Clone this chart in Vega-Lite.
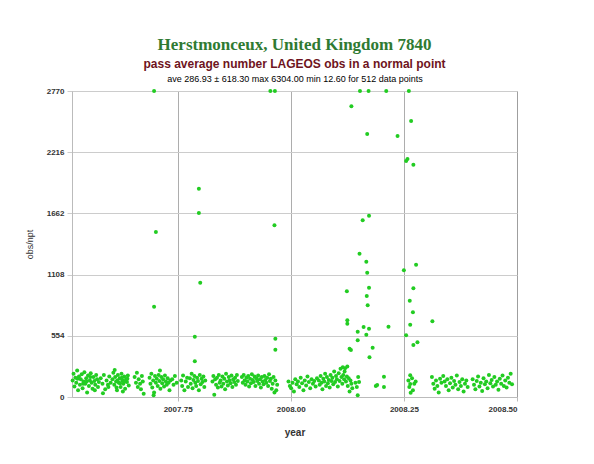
{
  "$schema": "https://vega.github.io/schema/vega-lite/v6.json",
  "width": 445,
  "height": 306,
  "autosize": {"type": "none"},
  "padding": {"left": 72, "top": 91, "right": 77, "bottom": 67},
  "background": "white",
  "title": {
    "text": "Herstmonceux, United Kingdom 7840",
    "subtitle": "pass average number LAGEOS obs in a normal point",
    "anchor": "middle",
    "font": "Liberation Serif",
    "fontSize": 17,
    "fontWeight": "bold",
    "color": "#2f7a32",
    "subtitleFont": "Liberation Sans",
    "subtitleFontSize": 12,
    "subtitleFontWeight": "bold",
    "subtitleColor": "#6e1421",
    "subtitlePadding": 5,
    "offset": 3
  },
  "config": {
    "view": {"stroke": "#bbbbbb"},
    "axis": {"labelFont": "Liberation Sans", "titleFont": "Liberation Sans"}
  },
  "data": {
    "values": [
      {"year": 2007.698, "obs": 2770}, {"year": 2007.702, "obs": 1493}, {"year": 2007.797, "obs": 1886}, {"year": 2007.797, "obs": 1665},
      {"year": 2007.955, "obs": 2770}, {"year": 2007.965, "obs": 2770}, {"year": 2007.964, "obs": 1554}, {"year": 2007.800, "obs": 1035},
      {"year": 2007.698, "obs": 817}, {"year": 2007.788, "obs": 546}, {"year": 2007.788, "obs": 323}, {"year": 2007.966, "obs": 528},
      {"year": 2007.966, "obs": 428}, {"year": 2008.153, "obs": 2770}, {"year": 2008.172, "obs": 2770}, {"year": 2008.211, "obs": 2770},
      {"year": 2008.261, "obs": 2770}, {"year": 2008.134, "obs": 2631}, {"year": 2008.266, "obs": 2498}, {"year": 2008.169, "obs": 2381},
      {"year": 2008.236, "obs": 2363}, {"year": 2008.255, "obs": 2136}, {"year": 2008.258, "obs": 2154}, {"year": 2008.271, "obs": 2103},
      {"year": 2008.173, "obs": 1641}, {"year": 2008.159, "obs": 1599}, {"year": 2008.152, "obs": 1297}, {"year": 2008.167, "obs": 1225},
      {"year": 2008.169, "obs": 1125}, {"year": 2008.250, "obs": 1147}, {"year": 2008.277, "obs": 1198}, {"year": 2008.124, "obs": 957},
      {"year": 2008.173, "obs": 990}, {"year": 2008.168, "obs": 914}, {"year": 2008.271, "obs": 984}, {"year": 2008.263, "obs": 872},
      {"year": 2008.170, "obs": 830}, {"year": 2008.270, "obs": 767}, {"year": 2008.125, "obs": 694}, {"year": 2008.125, "obs": 664},
      {"year": 2008.313, "obs": 685}, {"year": 2008.264, "obs": 654}, {"year": 2008.161, "obs": 634}, {"year": 2008.173, "obs": 618},
      {"year": 2008.148, "obs": 591}, {"year": 2008.216, "obs": 637}, {"year": 2008.167, "obs": 564}, {"year": 2008.255, "obs": 558},
      {"year": 2008.148, "obs": 513}, {"year": 2008.280, "obs": 495}, {"year": 2008.271, "obs": 471}, {"year": 2008.130, "obs": 437},
      {"year": 2008.133, "obs": 425}, {"year": 2008.181, "obs": 446}, {"year": 2008.174, "obs": 359}, {"year": 2008.149, "obs": 181},
      {"year": 2008.151, "obs": 136}, {"year": 2008.148, "obs": 15}, {"year": 2008.188, "obs": 100}, {"year": 2008.191, "obs": 109},
      {"year": 2008.206, "obs": 184}, {"year": 2008.206, "obs": 90}, {"year": 2008.264, "obs": 196}, {"year": 2008.264, "obs": 118},
      {"year": 2008.265, "obs": 39},
      {"year": 2007.518, "obs": 150}, {"year": 2007.520, "obs": 210}, {"year": 2007.522, "obs": 95}, {"year": 2007.524, "obs": 175},
      {"year": 2007.526, "obs": 130}, {"year": 2007.528, "obs": 240}, {"year": 2007.530, "obs": 60}, {"year": 2007.532, "obs": 185},
      {"year": 2007.534, "obs": 110}, {"year": 2007.536, "obs": 160}, {"year": 2007.538, "obs": 205}, {"year": 2007.540, "obs": 80},
      {"year": 2007.542, "obs": 140}, {"year": 2007.544, "obs": 225}, {"year": 2007.546, "obs": 120}, {"year": 2007.548, "obs": 170},
      {"year": 2007.550, "obs": 40}, {"year": 2007.552, "obs": 195}, {"year": 2007.554, "obs": 100}, {"year": 2007.556, "obs": 150},
      {"year": 2007.558, "obs": 215}, {"year": 2007.560, "obs": 130}, {"year": 2007.562, "obs": 75}, {"year": 2007.564, "obs": 180},
      {"year": 2007.566, "obs": 145}, {"year": 2007.568, "obs": 110}, {"year": 2007.570, "obs": 200}, {"year": 2007.572, "obs": 160},
      {"year": 2007.574, "obs": 90}, {"year": 2007.576, "obs": 135}, {"year": 2007.529, "obs": 165}, {"year": 2007.541, "obs": 120},
      {"year": 2007.549, "obs": 140}, {"year": 2007.557, "obs": 180}, {"year": 2007.567, "obs": 60},
      {"year": 2007.580, "obs": 170}, {"year": 2007.584, "obs": 120}, {"year": 2007.587, "obs": 200}, {"year": 2007.590, "obs": 70},
      {"year": 2007.593, "obs": 150}, {"year": 2007.596, "obs": 110}, {"year": 2007.599, "obs": 185}, {"year": 2007.602, "obs": 130},
      {"year": 2007.585, "obs": 35}, {"year": 2007.597, "obs": 90},
      {"year": 2007.606, "obs": 160}, {"year": 2007.608, "obs": 220}, {"year": 2007.610, "obs": 110}, {"year": 2007.612, "obs": 180},
      {"year": 2007.614, "obs": 140}, {"year": 2007.616, "obs": 60}, {"year": 2007.618, "obs": 200}, {"year": 2007.620, "obs": 130},
      {"year": 2007.622, "obs": 170}, {"year": 2007.624, "obs": 90}, {"year": 2007.626, "obs": 210}, {"year": 2007.628, "obs": 150},
      {"year": 2007.630, "obs": 120}, {"year": 2007.632, "obs": 185}, {"year": 2007.634, "obs": 75}, {"year": 2007.636, "obs": 160},
      {"year": 2007.638, "obs": 135}, {"year": 2007.640, "obs": 195}, {"year": 2007.642, "obs": 105}, {"year": 2007.611, "obs": 245},
      {"year": 2007.617, "obs": 150}, {"year": 2007.623, "obs": 125}, {"year": 2007.627, "obs": 175}, {"year": 2007.633, "obs": 140},
      {"year": 2007.639, "obs": 165}, {"year": 2007.615, "obs": 85}, {"year": 2007.629, "obs": 50},
      {"year": 2007.655, "obs": 180}, {"year": 2007.658, "obs": 130}, {"year": 2007.660, "obs": 220}, {"year": 2007.662, "obs": 90},
      {"year": 2007.664, "obs": 160}, {"year": 2007.667, "obs": 120}, {"year": 2007.669, "obs": 70}, {"year": 2007.671, "obs": 190},
      {"year": 2007.673, "obs": 140}, {"year": 2007.675, "obs": 30},
      {"year": 2007.688, "obs": 175}, {"year": 2007.690, "obs": 120}, {"year": 2007.692, "obs": 210}, {"year": 2007.694, "obs": 85},
      {"year": 2007.696, "obs": 150}, {"year": 2007.698, "obs": 40}, {"year": 2007.700, "obs": 190}, {"year": 2007.702, "obs": 130},
      {"year": 2007.704, "obs": 165}, {"year": 2007.706, "obs": 100}, {"year": 2007.708, "obs": 200}, {"year": 2007.710, "obs": 145},
      {"year": 2007.712, "obs": 75}, {"year": 2007.714, "obs": 180}, {"year": 2007.716, "obs": 125}, {"year": 2007.718, "obs": 160},
      {"year": 2007.720, "obs": 95}, {"year": 2007.722, "obs": 195}, {"year": 2007.724, "obs": 140}, {"year": 2007.726, "obs": 110},
      {"year": 2007.728, "obs": 170}, {"year": 2007.730, "obs": 130}, {"year": 2007.732, "obs": 60}, {"year": 2007.734, "obs": 150},
      {"year": 2007.697, "obs": 15}, {"year": 2007.711, "obs": 240},
      {"year": 2007.738, "obs": 160}, {"year": 2007.741, "obs": 110}, {"year": 2007.744, "obs": 190}, {"year": 2007.748, "obs": 130},
      {"year": 2007.758, "obs": 150}, {"year": 2007.760, "obs": 100}, {"year": 2007.762, "obs": 195}, {"year": 2007.765, "obs": 60},
      {"year": 2007.768, "obs": 140}, {"year": 2007.771, "obs": 175}, {"year": 2007.773, "obs": 90},
      {"year": 2007.777, "obs": 170}, {"year": 2007.779, "obs": 120}, {"year": 2007.781, "obs": 210}, {"year": 2007.783, "obs": 80},
      {"year": 2007.785, "obs": 155}, {"year": 2007.787, "obs": 190}, {"year": 2007.789, "obs": 130}, {"year": 2007.791, "obs": 100},
      {"year": 2007.793, "obs": 175}, {"year": 2007.795, "obs": 145}, {"year": 2007.797, "obs": 60}, {"year": 2007.799, "obs": 200},
      {"year": 2007.801, "obs": 115}, {"year": 2007.803, "obs": 165}, {"year": 2007.805, "obs": 135}, {"year": 2007.807, "obs": 185},
      {"year": 2007.809, "obs": 90}, {"year": 2007.811, "obs": 150},
      {"year": 2007.827, "obs": 140}, {"year": 2007.829, "obs": 190}, {"year": 2007.831, "obs": 20}, {"year": 2007.833, "obs": 160},
      {"year": 2007.835, "obs": 110}, {"year": 2007.837, "obs": 175}, {"year": 2007.839, "obs": 85}, {"year": 2007.841, "obs": 200},
      {"year": 2007.843, "obs": 130}, {"year": 2007.845, "obs": 150}, {"year": 2007.847, "obs": 95}, {"year": 2007.849, "obs": 185},
      {"year": 2007.851, "obs": 120}, {"year": 2007.853, "obs": 165}, {"year": 2007.855, "obs": 70}, {"year": 2007.857, "obs": 210},
      {"year": 2007.859, "obs": 140}, {"year": 2007.861, "obs": 105}, {"year": 2007.863, "obs": 180}, {"year": 2007.865, "obs": 150},
      {"year": 2007.867, "obs": 125}, {"year": 2007.869, "obs": 195}, {"year": 2007.871, "obs": 90}, {"year": 2007.873, "obs": 160},
      {"year": 2007.875, "obs": 135}, {"year": 2007.877, "obs": 175}, {"year": 2007.879, "obs": 110}, {"year": 2007.881, "obs": 200},
      {"year": 2007.883, "obs": 145},
      {"year": 2007.892, "obs": 180}, {"year": 2007.894, "obs": 130}, {"year": 2007.896, "obs": 200}, {"year": 2007.898, "obs": 150},
      {"year": 2007.900, "obs": 110}, {"year": 2007.902, "obs": 175}, {"year": 2007.904, "obs": 140}, {"year": 2007.906, "obs": 190},
      {"year": 2007.908, "obs": 95}, {"year": 2007.910, "obs": 165}, {"year": 2007.912, "obs": 125}, {"year": 2007.914, "obs": 205},
      {"year": 2007.916, "obs": 155}, {"year": 2007.918, "obs": 135}, {"year": 2007.920, "obs": 185}, {"year": 2007.922, "obs": 100},
      {"year": 2007.924, "obs": 170}, {"year": 2007.926, "obs": 145}, {"year": 2007.928, "obs": 195}, {"year": 2007.930, "obs": 120},
      {"year": 2007.932, "obs": 160}, {"year": 2007.934, "obs": 85}, {"year": 2007.936, "obs": 180}, {"year": 2007.938, "obs": 140},
      {"year": 2007.940, "obs": 115}, {"year": 2007.942, "obs": 190}, {"year": 2007.944, "obs": 155}, {"year": 2007.946, "obs": 130},
      {"year": 2007.948, "obs": 175}, {"year": 2007.950, "obs": 100}, {"year": 2007.952, "obs": 205}, {"year": 2007.954, "obs": 145},
      {"year": 2007.956, "obs": 165}, {"year": 2007.958, "obs": 75}, {"year": 2007.960, "obs": 120}, {"year": 2007.962, "obs": 180},
      {"year": 2007.964, "obs": 40}, {"year": 2007.966, "obs": 150}, {"year": 2007.968, "obs": 60}, {"year": 2007.970, "obs": 110},
      {"year": 2007.995, "obs": 140}, {"year": 2007.998, "obs": 100}, {"year": 2008.001, "obs": 80}, {"year": 2008.004, "obs": 130},
      {"year": 2008.007, "obs": 50}, {"year": 2008.010, "obs": 160}, {"year": 2008.013, "obs": 115}, {"year": 2008.016, "obs": 140},
      {"year": 2008.019, "obs": 90}, {"year": 2008.022, "obs": 175}, {"year": 2008.025, "obs": 125}, {"year": 2008.028, "obs": 60},
      {"year": 2008.031, "obs": 150}, {"year": 2008.034, "obs": 105}, {"year": 2008.037, "obs": 185}, {"year": 2008.040, "obs": 135},
      {"year": 2008.043, "obs": 80}, {"year": 2008.046, "obs": 160}, {"year": 2008.049, "obs": 120}, {"year": 2008.052, "obs": 145},
      {"year": 2008.055, "obs": 95}, {"year": 2008.058, "obs": 170},
      {"year": 2008.062, "obs": 150}, {"year": 2008.064, "obs": 110}, {"year": 2008.066, "obs": 190}, {"year": 2008.068, "obs": 130},
      {"year": 2008.070, "obs": 70}, {"year": 2008.072, "obs": 165}, {"year": 2008.074, "obs": 140}, {"year": 2008.076, "obs": 210},
      {"year": 2008.078, "obs": 100}, {"year": 2008.080, "obs": 180}, {"year": 2008.082, "obs": 125}, {"year": 2008.084, "obs": 155},
      {"year": 2008.086, "obs": 85}, {"year": 2008.088, "obs": 200}, {"year": 2008.090, "obs": 145}, {"year": 2008.092, "obs": 175},
      {"year": 2008.094, "obs": 115}, {"year": 2008.096, "obs": 230}, {"year": 2008.098, "obs": 135}, {"year": 2008.100, "obs": 190},
      {"year": 2008.102, "obs": 160}, {"year": 2008.104, "obs": 95}, {"year": 2008.106, "obs": 215}, {"year": 2008.108, "obs": 145},
      {"year": 2008.110, "obs": 255}, {"year": 2008.112, "obs": 180}, {"year": 2008.114, "obs": 120}, {"year": 2008.116, "obs": 200},
      {"year": 2008.118, "obs": 160}, {"year": 2008.120, "obs": 260}, {"year": 2008.122, "obs": 140}, {"year": 2008.124, "obs": 185},
      {"year": 2008.126, "obs": 100}, {"year": 2008.128, "obs": 170}, {"year": 2008.130, "obs": 50}, {"year": 2008.132, "obs": 150},
      {"year": 2008.134, "obs": 120}, {"year": 2008.136, "obs": 80}, {"year": 2008.115, "obs": 270}, {"year": 2008.125, "obs": 275},
      {"year": 2008.119, "obs": 230}, {"year": 2008.143, "obs": 130}, {"year": 2008.146, "obs": 90},
      {"year": 2008.260, "obs": 150}, {"year": 2008.262, "obs": 90}, {"year": 2008.268, "obs": 170}, {"year": 2008.270, "obs": 60},
      {"year": 2008.273, "obs": 120}, {"year": 2008.276, "obs": 140},
      {"year": 2008.312, "obs": 180}, {"year": 2008.315, "obs": 120}, {"year": 2008.318, "obs": 75}, {"year": 2008.321, "obs": 150},
      {"year": 2008.324, "obs": 100}, {"year": 2008.327, "obs": 40}, {"year": 2008.330, "obs": 165}, {"year": 2008.333, "obs": 130},
      {"year": 2008.337, "obs": 190}, {"year": 2008.340, "obs": 140}, {"year": 2008.343, "obs": 100}, {"year": 2008.346, "obs": 160},
      {"year": 2008.349, "obs": 60}, {"year": 2008.352, "obs": 125}, {"year": 2008.355, "obs": 175}, {"year": 2008.358, "obs": 85},
      {"year": 2008.361, "obs": 145}, {"year": 2008.364, "obs": 110}, {"year": 2008.367, "obs": 195}, {"year": 2008.370, "obs": 70},
      {"year": 2008.373, "obs": 135}, {"year": 2008.376, "obs": 100}, {"year": 2008.379, "obs": 160}, {"year": 2008.382, "obs": 50},
      {"year": 2008.385, "obs": 120}, {"year": 2008.388, "obs": 150}, {"year": 2008.391, "obs": 90},
      {"year": 2008.402, "obs": 160}, {"year": 2008.405, "obs": 110}, {"year": 2008.408, "obs": 70}, {"year": 2008.411, "obs": 145},
      {"year": 2008.414, "obs": 185}, {"year": 2008.417, "obs": 95}, {"year": 2008.420, "obs": 130}, {"year": 2008.423, "obs": 55},
      {"year": 2008.426, "obs": 170}, {"year": 2008.429, "obs": 115}, {"year": 2008.432, "obs": 140}, {"year": 2008.435, "obs": 80},
      {"year": 2008.438, "obs": 200}, {"year": 2008.441, "obs": 125}, {"year": 2008.444, "obs": 155}, {"year": 2008.447, "obs": 95},
      {"year": 2008.450, "obs": 180}, {"year": 2008.453, "obs": 110}, {"year": 2008.456, "obs": 140}, {"year": 2008.459, "obs": 65},
      {"year": 2008.462, "obs": 165}, {"year": 2008.465, "obs": 120}, {"year": 2008.468, "obs": 195}, {"year": 2008.471, "obs": 100},
      {"year": 2008.474, "obs": 150}, {"year": 2008.477, "obs": 85}, {"year": 2008.480, "obs": 175}, {"year": 2008.483, "obs": 130},
      {"year": 2008.486, "obs": 210}, {"year": 2008.489, "obs": 115}
    ]
  },
  "layer": [
    {
      "mark": {"type": "circle", "size": 16, "color": "#22cc22", "opacity": 1},
      "encoding": {
        "x": {
          "field": "year", "type": "quantitative",
          "scale": {"domain": [2007.5166, 2008.5], "nice": false, "zero": false},
          "axis": {
            "orient": "bottom", "values": [2007.75, 2008.0, 2008.25, 2008.5], "format": ".2f",
            "title": "year", "titleFontSize": 10, "titleFontWeight": "bold", "titleColor": "#333333", "titlePadding": 14,
            "labelFontSize": 8, "labelFontWeight": "bold", "labelColor": "#333333", "labelPadding": 4,
            "grid": true, "gridColor": "#999999", "gridOpacity": 0.8, "domainColor": "#bbbbbb", "tickColor": "#bbbbbb", "tickSize": 4
          }
        },
        "y": {
          "field": "obs", "type": "quantitative",
          "scale": {"domain": [0, 2770], "nice": false},
          "axis": {
            "values": [0, 554, 1108, 1662, 2216, 2770], "format": "d",
            "title": "obs/npt", "titleFontSize": 9, "titleFontWeight": "normal", "titleColor": "#333333", "titlePadding": 12,
            "labelFontSize": 8, "labelFontWeight": "bold", "labelColor": "#333333", "labelPadding": 3,
            "grid": true, "gridColor": "#cccccc", "domainColor": "#bbbbbb", "tickColor": "#cccccc", "tickSize": 5
          }
        }
      }
    },
    {
      "mark": {"type": "point", "opacity": 0},
      "encoding": {
        "x": {
          "field": "year", "type": "quantitative",
          "axis": {
            "orient": "top", "title": "ave 286.93 ± 618.30 max 6304.00 min 12.60 for 512 data points",
            "titleFontSize": 9, "titleFontWeight": "normal", "titleColor": "#000000", "titlePadding": 8,
            "labels": false, "ticks": false, "domain": false, "grid": false
          }
        },
        "y": {"field": "obs", "type": "quantitative"}
      }
    }
  ],
  "resolve": {"axis": {"x": "independent"}}
}
